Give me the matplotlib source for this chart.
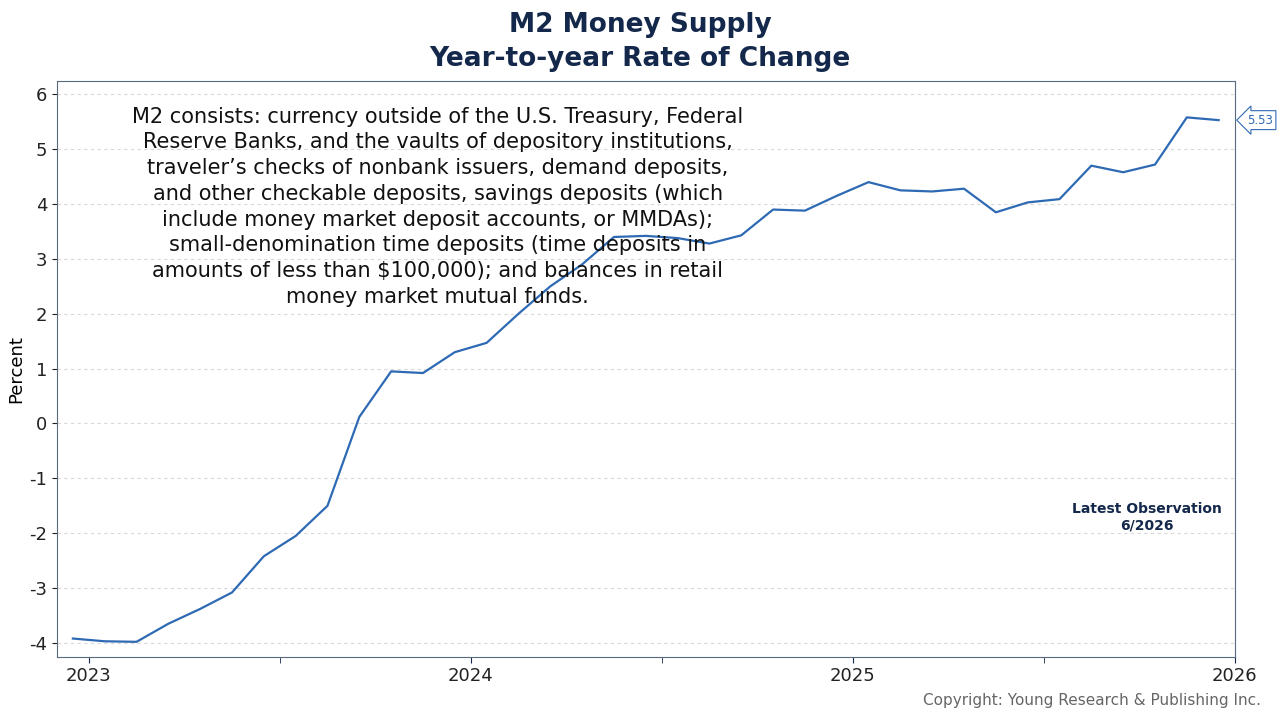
import matplotlib.pyplot as plt
from matplotlib.ticker import MultipleLocator, FuncFormatter

plt.rcParams["axes.unicode_minus"] = False

# monthly year-over-year % change, Dec 2022 .. Dec 2025
values = [-3.92, -3.97, -3.98, -3.65, -3.38, -3.08, -2.42, -2.05, -1.50, 0.12,
          0.95, 0.92, 1.30, 1.47, 2.00, 2.50, 2.90, 3.40, 3.42, 3.38,
          3.28, 3.43, 3.90, 3.88, 4.15, 4.40, 4.25, 4.23, 4.28, 3.85,
          4.03, 4.09, 4.70, 4.58, 4.72, 5.58, 5.53]
x = [2023 + (i - 0.5) / 12 for i in range(len(values))]
year_ticks = [2023, 2024, 2025, 2026]

navy = "#14284b"
fig = plt.figure(figsize=(12.8, 7.2), dpi=100)
ax = fig.add_axes([0.0445, 0.088, 0.92, 0.80])
ax.plot(x, values, color="#2e6ab4", lw=1.6)
ax.set_xlim(2023 - 1 / 12, 2026)
ax.set_ylim(-4.25, 6.25)
ax.yaxis.set_major_locator(MultipleLocator(1))
ax.yaxis.set_major_formatter(FuncFormatter(lambda v, p: f"{v:.0f}"))
ax.set_xticks(year_ticks)
ax.set_xticks([2023.5, 2024.5, 2025.5], minor=True)
ax.set_xticklabels([str(y) for y in year_ticks])
ax.tick_params(labelsize=13, colors="#222222")
ax.tick_params(axis="x", which="both", length=4, color=navy)
ax.grid(axis="y", ls=(0, (3, 3)), color="#d8d8d8", lw=0.8)
for s in ax.spines.values():
    s.set_color("#5a6a80")
ax.set_ylabel("Percent", fontsize=13)
ax.yaxis.set_label_coords(-0.027, 0.5)

fig.text(0.5, 0.965, "M2 Money Supply", ha="center", va="center",
         fontsize=19, fontweight="bold", color=navy)
fig.text(0.5, 0.918, "Year-to-year Rate of Change", ha="center", va="center",
         fontsize=19, fontweight="bold", color=navy)

note = ("M2 consists: currency outside of the U.S. Treasury, Federal\n"
        "Reserve Banks, and the vaults of depository institutions,\n"
        "traveler\u2019s checks of nonbank issuers, demand deposits,\n"
        "and other checkable deposits, savings deposits (which\n"
        "include money market deposit accounts, or MMDAs);\n"
        "small-denomination time deposits (time deposits in\n"
        "amounts of less than $100,000); and balances in retail\n"
        "money market mutual funds.")
fig.text(0.342, 0.852, note, ha="center", va="top", fontsize=15,
         linespacing=1.36, color="#111111")

fig.text(0.896, 0.282, "Latest Observation\n6/2026", ha="center", va="center",
         fontsize=10, fontweight="bold", color=navy)

ax.annotate(f"{values[-1]:.2f}", xy=(1.0, (values[-1] + 4.25) / 10.5),
            xycoords="axes fraction", xytext=(9, 0), textcoords="offset points",
            va="center", ha="left", fontsize=8.5, color="#2e6ab4",
            bbox=dict(boxstyle="larrow,pad=0.25", fc="white", ec="#2e6ab4", lw=0.8))

fig.text(0.985, 0.027, "Copyright: Young Research & Publishing Inc.", ha="right",
         va="center", fontsize=11, color="#666666")
fig.savefig("out.png")
